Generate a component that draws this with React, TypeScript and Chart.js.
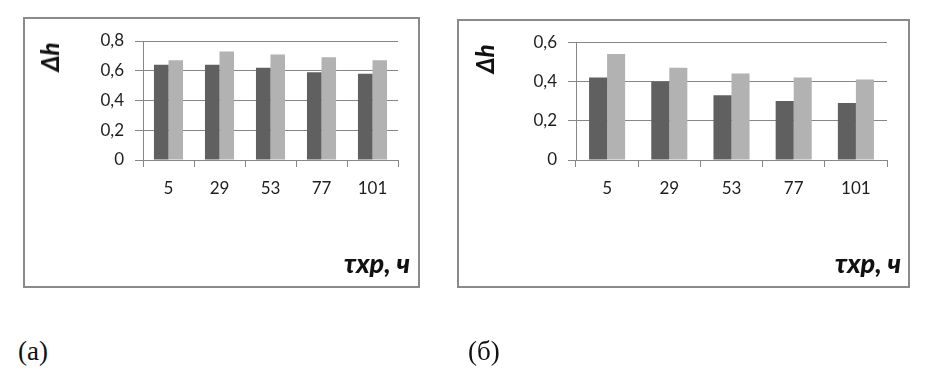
import React, { useEffect, useRef } from "react";
import { Chart, registerables } from "chart.js";

Chart.register(...registerables);

const categories = ["5", "29", "53", "77", "101"];
const seriesA1 = [0.64, 0.64, 0.62, 0.59, 0.58];
const seriesA2 = [0.67, 0.73, 0.71, 0.69, 0.67];
const seriesB1 = [0.42, 0.4, 0.33, 0.3, 0.29];
const seriesB2 = [0.54, 0.47, 0.44, 0.42, 0.41];
const yTicksA = ["0", "0,2", "0,4", "0,6", "0,8"];
const yTicksB = ["0", "0,2", "0,4", "0,6"];
const yTitle = "Δh";
const xTitle = "τхр, ч";
const panelLabels = ["(а)", "(б)"];

const DARK = "#606060";
const LIGHT = "#b2b2b2";
const GRID = "#878787";
const TEXT = "#1e1e1e";

type PanelProps = {
  left: number;
  top: number;
  width: number;
  height: number;
  s1: number[];
  s2: number[];
  yTicks: string[];
  plotLeft: number;
  plotRight: number;
  plotTop: number;
  plotBottom: number;
  catPct: number;
};

function Panel(p: PanelProps) {
  const ref = useRef<HTMLCanvasElement | null>(null);
  const cw = p.width - 4;
  const ch = p.height - 4;
  useEffect(() => {
    if (!ref.current) return;
    const yMax = (p.yTicks.length - 1) * 0.2;
    const chart = new Chart(ref.current, {
      type: "bar",
      data: {
        labels: categories,
        datasets: [
          { data: p.s1, backgroundColor: DARK, barPercentage: 1, categoryPercentage: p.catPct },
          { data: p.s2, backgroundColor: LIGHT, barPercentage: 1, categoryPercentage: p.catPct },
        ],
      },
      options: {
        animation: false,
        responsive: false,
        devicePixelRatio: 1,
        layout: { padding: { left: 0, right: cw - p.plotRight, top: p.plotTop, bottom: 0 } },
        plugins: { legend: { display: false }, tooltip: { enabled: false }, title: { display: false } },
        scales: {
          x: {
            offset: true,
            grid: { offset: true, drawOnChartArea: false, color: GRID, tickLength: 7, tickColor: GRID },
            border: { color: GRID },
            ticks: {
              color: TEXT,
              font: { family: "Lato", size: 17 },
              padding: 11,
              maxRotation: 0,
              autoSkip: false,
            },
            afterFit: (s: any) => {
              s.height = ch - p.plotBottom;
            },
          },
          y: {
            min: 0,
            max: yMax,
            grid: { color: GRID, tickLength: 8, tickColor: GRID },
            border: { color: GRID },
            ticks: {
              stepSize: 0.2,
              color: TEXT,
              font: { family: "Lato", size: 17 },
              padding: 11,
              callback: (v: any) => p.yTicks[Math.round(Number(v) / 0.2)] ?? "",
            },
            afterFit: (s: any) => {
              s.width = p.plotLeft;
            },
          },
        },
      },
    });
    return () => chart.destroy();
  }, []);
  return (
    <div
      style={{
        position: "absolute",
        left: p.left,
        top: p.top,
        width: p.width,
        height: p.height,
        border: "2px solid #8a8a8a",
        boxSizing: "border-box",
      }}
    >
      <canvas
        ref={ref}
        width={cw}
        height={ch}
        style={{ position: "absolute", left: 0, top: 0, width: cw, height: ch }}
      />
    </div>
  );
}

const titleStyle: React.CSSProperties = {
  position: "absolute",
  fontFamily: "Lato",
  fontWeight: 900,
  fontStyle: "italic",
  color: "#111",
  lineHeight: 1,
  whiteSpace: "nowrap",
};

const labelStyle: React.CSSProperties = {
  position: "absolute",
  fontFamily: "'Liberation Serif', serif",
  fontSize: 27,
  lineHeight: 1,
  color: "#111",
  whiteSpace: "nowrap",
};

export default function App() {
  return (
    <div
      style={{
        position: "fixed",
        left: 0,
        top: 0,
        width: 938,
        height: 381,
        background: "#fff",
        overflow: "hidden",
      }}
    >
      <Panel
        left={23}
        top={17}
        width={397}
        height={271}
        s1={seriesA1}
        s2={seriesA2}
        yTicks={yTicksA}
        plotLeft={118}
        plotRight={373}
        plotTop={22}
        plotBottom={141}
        catPct={0.57}
      />
      <Panel
        left={457}
        top={19}
        width={453}
        height={269}
        s1={seriesB1}
        s2={seriesB2}
        yTicks={yTicksB}
        plotLeft={117}
        plotRight={428}
        plotTop={20}
        plotBottom={139}
        catPct={0.58}
      />
      {/* axis titles */}
      <div style={{ ...titleStyle, fontSize: 24, left: 50, top: 57, transform: "translate(-50%,-50%) rotate(-90deg)" }}>
        {yTitle}
      </div>
      <div style={{ ...titleStyle, fontSize: 24, left: 485, top: 59, transform: "translate(-50%,-50%) rotate(-90deg)" }}>
        {yTitle}
      </div>
      <div style={{ ...titleStyle, fontSize: 27, right: 938 - 410, top: 249 }}>{xTitle}</div>
      <div style={{ ...titleStyle, fontSize: 27, right: 938 - 901, top: 249 }}>{xTitle}</div>
      <div style={{ ...labelStyle, left: 18, top: 338 }}>{panelLabels[0]}</div>
      <div style={{ ...labelStyle, left: 468, top: 338 }}>{panelLabels[1]}</div>
    </div>
  );
}
